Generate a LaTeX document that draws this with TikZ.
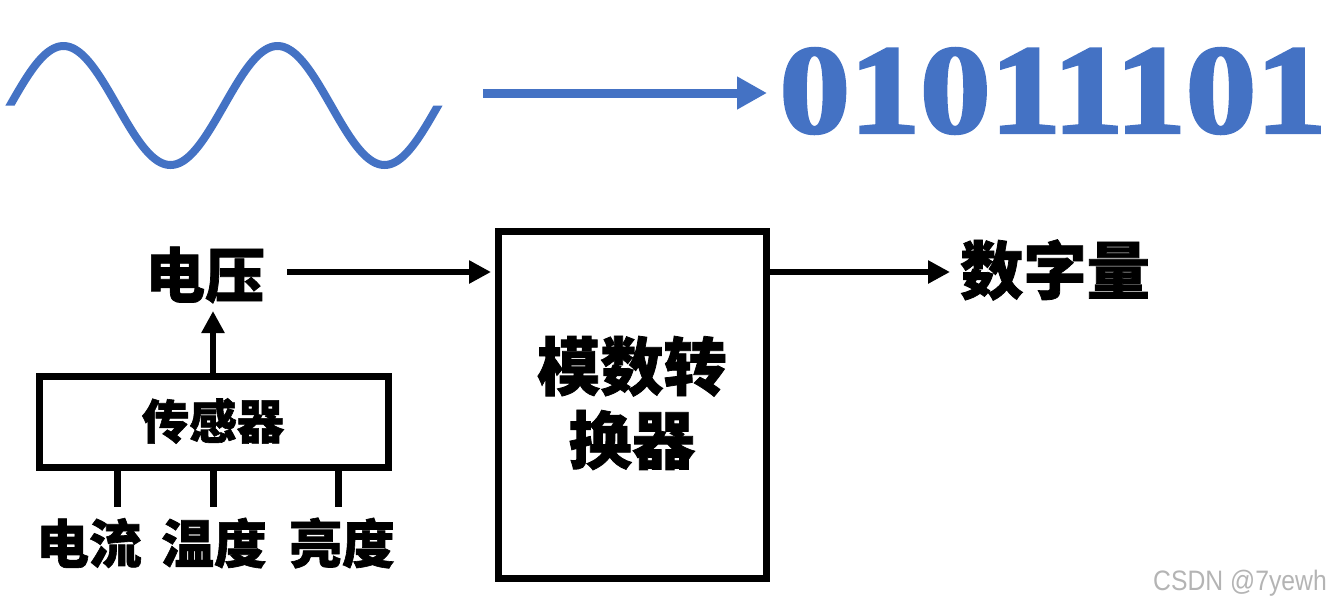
\documentclass[tikz,border=0pt]{standalone}
\usepackage{fontspec}
\usetikzlibrary{arrows.meta,calc}
\newfontfamily\cjk{Noto Sans CJK SC}[BoldFeatures={FakeBold=1.2}]
\newfontfamily\digitfont{Liberation Serif}[BoldFeatures={FakeBold=2.5}]
\newfontfamily\wmfont{Liberation Sans}
\definecolor{wblue}{HTML}{4472C4}
\definecolor{wmgray}{HTML}{B4B4B4}
\tikzset{
  sinewave/.style={wblue, line width=0.16cm},
  bluearrow/.style={wblue, line width=0.18cm, -{Triangle[length=0.6cm,width=0.62cm]}},
  blk/.style={black, line width=0.14cm},
  blkarrow/.style={black, line width=0.13cm, -{Triangle[length=0.44cm,width=0.44cm]}},
  box/.style={draw=black, line width=0.14cm, rectangle, inner sep=0pt},
  lbl/.style={font=\cjk\bfseries, inner sep=0pt, align=center},
}
\begin{document}
\begin{tikzpicture}[x=0.02cm,y=-0.02cm]
\useasboundingbox (0,0) rectangle (1327,606);
% sine wave
\begin{scope}
  \clip (0,0) -- (420,0) -- (420,105.5) -- (470,105.5) -- (470,220) -- (30,220) -- (30,105.5) -- (0,105.5) -- cycle;
  \draw[sinewave] plot[domain=0:450, samples=220, smooth] (\x, {105.5-59.5*sin(1.68224*(\x-10))});
\end{scope}
% top arrow and binary
\coordinate (ws) at (483,93);
\coordinate (we) at (767,93);
\draw[bluearrow] (ws) -- (we);
\node[inner sep=0pt, text=wblue] (bin) at (1053,91) {\scalebox{1.0}[0.9]{\digitfont\bfseries\fontsize{80pt}{80pt}\selectfont 01011101}};
% labels
\node[lbl, font=\cjk\bfseries\fontsize{34pt}{34pt}\selectfont] (volt) at (205,275) {电压};
\node[box, minimum width=5.38cm, minimum height=6.96cm] (adc) at (632.5,405) {};
\node[lbl, font=\cjk\bfseries\fontsize{36pt}{42pt}\selectfont] (adct) at (632,403) {模数转\\换器};
\node[lbl, font=\cjk\bfseries\fontsize{36pt}{36pt}\selectfont] (dig) at (1055,270) {数字量};
\node[box, minimum width=7.0cm, minimum height=1.82cm] (sensor) at (214,421.5) {};
\node[lbl, font=\cjk\bfseries\fontsize{27pt}{27pt}\selectfont] (sent) at (213,421) {传感器};
\node[lbl, font=\cjk\bfseries\fontsize{30pt}{30pt}\selectfont] (cur) at (89,543) {电流};
\node[lbl, font=\cjk\bfseries\fontsize{30pt}{30pt}\selectfont] (temp) at (214,543) {温度};
\node[lbl, font=\cjk\bfseries\fontsize{30pt}{30pt}\selectfont] (bright) at (342,543) {亮度};
% connectors
\coordinate (c1) at (117,507);
\coordinate (c2) at (213,507);
\coordinate (c3) at (338,507);
\draw[blk] (c1 |- sensor.south) -- (c1);
\draw[blk] (c2 |- sensor.south) -- (c2);
\draw[blk] (c3 |- sensor.south) -- (c3);
\coordinate (vt) at (213,311);
\draw[blkarrow] (vt |- sensor.north) -- (vt);
\coordinate (va) at (287,272);
\draw[blkarrow, shorten >=0.07cm] (va) -- (adc.west |- va);
\coordinate (dout) at (950,272);
\draw[blkarrow, shorten <=-0.07cm] (adc.east |- dout) -- (dout);
% watermark
\node[inner sep=0pt, text=wmgray, font=\wmfont\fontsize{16pt}{16pt}\selectfont] (wm) at (1240,583) {\scalebox{0.88}[1]{CSDN @7yewh}};
\end{tikzpicture}
\end{document}
